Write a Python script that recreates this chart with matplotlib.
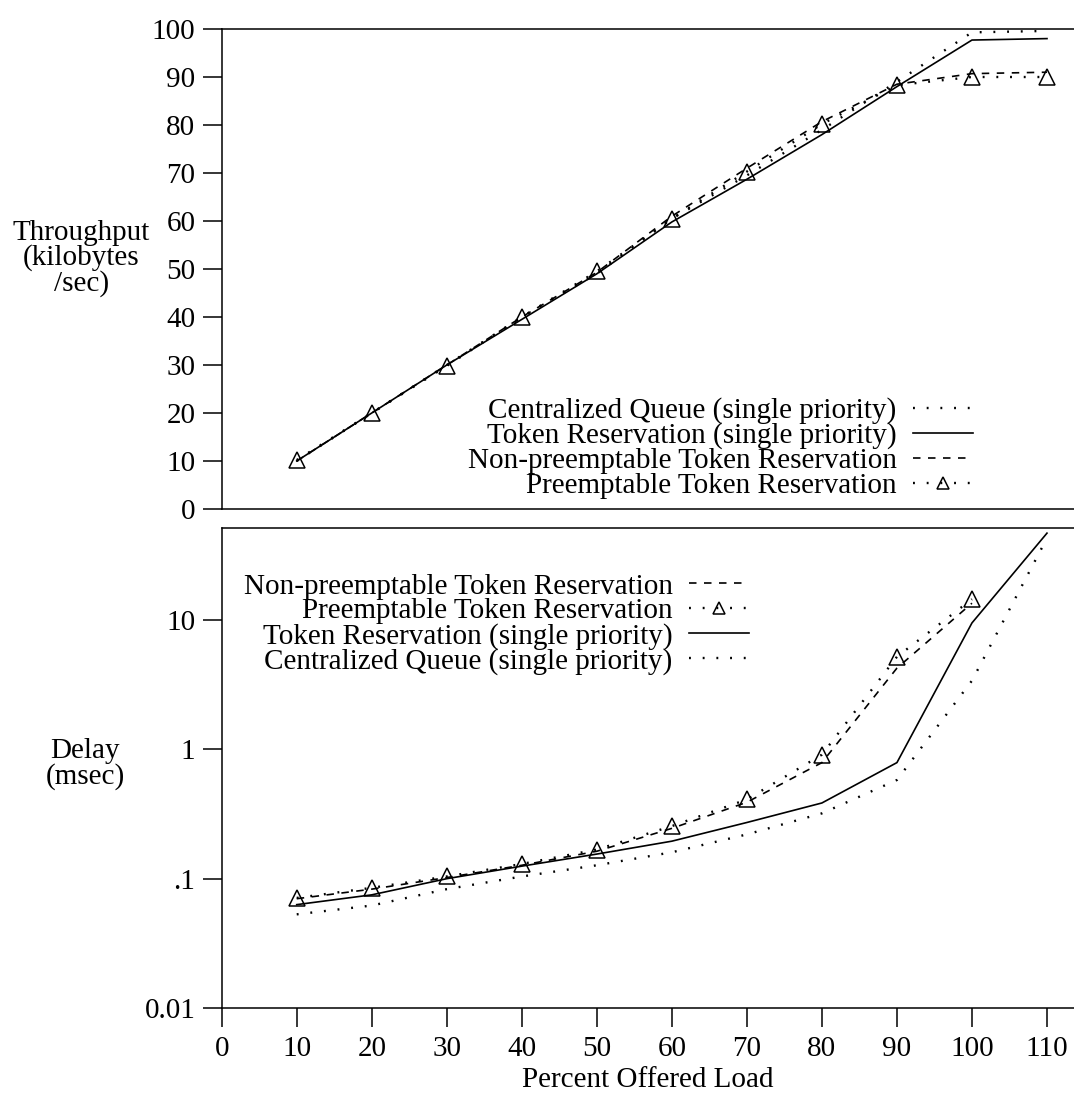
import matplotlib
matplotlib.use("Agg")
import matplotlib.pyplot as plt
from matplotlib.ticker import FixedLocator, FixedFormatter, NullLocator

plt.rcParams['font.family'] = ['Liberation Serif', 'DejaVu Serif']
plt.rcParams['font.size'] = 21

# ---------------- data ----------------
load = [10, 20, 30, 40, 50, 60, 70, 80, 90, 100, 110]
load_sat = [10, 20, 30, 40, 50, 60, 70, 80, 90, 100]

thr_central = [10, 20, 30, 40, 49, 60.5, 69.5, 79, 89, 99.3, 99.6]
thr_token = [10, 20, 30, 39.5, 49, 59.8, 68.7, 78, 88, 97.7, 98]
thr_nonpre = [10, 20, 30, 40, 49.3, 61, 71, 80.7, 88.5, 90.7, 91]
thr_pre = [10.2, 20, 29.8, 40, 49.5, 60.5, 70.3, 80.2, 88.3, 90, 90]

del_central = [0.053, 0.062, 0.083, 0.104, 0.127, 0.16, 0.22, 0.32, 0.58, 3.4, 43]
del_token = [0.063, 0.075, 0.1, 0.125, 0.155, 0.195, 0.272, 0.385, 0.79, 9.5, 47]
del_nonpre = [0.07, 0.083, 0.102, 0.127, 0.163, 0.245, 0.39, 0.79, 4.25, 13.5]
del_pre = [0.071, 0.085, 0.104, 0.13, 0.168, 0.255, 0.41, 0.91, 5.2, 14.5]

lbl_central = "Centralized Queue (single priority)"
lbl_token = "Token Reservation (single priority)"
lbl_nonpre = "Non-preemptable Token Reservation"
lbl_pre = "Preemptable Token Reservation"

thr_ticks = [0, 10, 20, 30, 40, 50, 60, 70, 80, 90, 100]
del_ticks = [0.01, 0.1, 1, 10]
del_ticklabels = ["0.01", ".1", "1", "10"]
x_ticks = [0, 10, 20, 30, 40, 50, 60, 70, 80, 90, 100, 110]

# ---------------- styles ----------------
LW = 1.2
DOT_LW = 1.7
dot = (0, (0.8, 5.0))
dash = (0, (4.5, 4.5))
tri = dict(marker='^', markersize=11, markerfacecolor='none',
           markeredgecolor='black', markeredgewidth=1.1)

W, H = 1074, 1095
fig = plt.figure(figsize=(W / 100, H / 100), dpi=100)
left = 221.7 / W
ax1 = fig.add_axes([left, (H - 509) / H, 1 - left, 480 / H])
ax2 = fig.add_axes([left, (H - 1008) / H, 1 - left, 480 / H])

for ax in (ax1, ax2):
    ax.spines['right'].set_visible(False)
    for s in ('left', 'top', 'bottom'):
        ax.spines[s].set_linewidth(1.1)
    ax.tick_params(direction='out', length=14, width=1.1, pad=5)
    ax.set_xlim(0, 113.6)

# ----- top panel -----
ax1.plot(load, thr_central, color='black', lw=DOT_LW, ls=dot, label=lbl_central)
ax1.plot(load, thr_token, color='black', lw=LW, ls='-', label=lbl_token)
ax1.plot(load, thr_nonpre, color='black', lw=LW, ls=dash, label=lbl_nonpre)
ax1.plot(load, thr_pre, color='black', lw=DOT_LW, ls=dot, label=lbl_pre, **tri)
ax1.set_ylim(0, 100)
ax1.yaxis.set_major_locator(FixedLocator(thr_ticks))
ax1.tick_params(axis='x', bottom=False, labelbottom=False)
ax1.set_ylabel("Throughput\n(kilobytes\n/sec)", rotation=0, ha='center',
               va='center', linespacing=0.95)
ax1.yaxis.set_label_coords(-0.165, 0.522)
leg1 = ax1.legend(loc='center right', bbox_to_anchor=(972.5 / W, (H - 448) / H),
                  bbox_transform=fig.transFigure, frameon=False, markerfirst=False,
                  handlelength=2.05, handletextpad=0.55, labelspacing=-0.06,
                  borderpad=0, borderaxespad=0, fontsize=21, markerscale=0.8)

# ----- bottom panel -----
ax2.set_yscale('log')
ax2.plot(load_sat, del_nonpre, color='black', lw=LW, ls=dash, label=lbl_nonpre)
ax2.plot(load_sat, del_pre, color='black', lw=DOT_LW, ls=dot, label=lbl_pre, **tri)
ax2.plot(load, del_token, color='black', lw=LW, ls='-', label=lbl_token)
ax2.plot(load, del_central, color='black', lw=DOT_LW, ls=dot, label=lbl_central)
ax2.set_ylim(0.01, 51.5)
ax2.yaxis.set_major_locator(FixedLocator(del_ticks))
ax2.yaxis.set_major_formatter(FixedFormatter(del_ticklabels))
ax2.yaxis.set_minor_locator(NullLocator())
ax2.xaxis.set_major_locator(FixedLocator(x_ticks))
ax2.tick_params(axis='x', length=14, pad=6)
ax2.set_xlabel("Percent Offered Load", labelpad=4)
ax2.set_ylabel("Delay\n(msec)", rotation=0, ha='center', va='center',
               linespacing=0.95)
ax2.yaxis.set_label_coords(-0.160, 0.508)
leg2 = ax2.legend(loc='center right', bbox_to_anchor=(748.5 / W, (H - 624) / H),
                  bbox_transform=fig.transFigure, frameon=False, markerfirst=False,
                  handlelength=2.05, handletextpad=0.55, labelspacing=-0.06,
                  borderpad=0, borderaxespad=0, fontsize=21, markerscale=0.8)

fig.savefig("out.png", dpi=100)
